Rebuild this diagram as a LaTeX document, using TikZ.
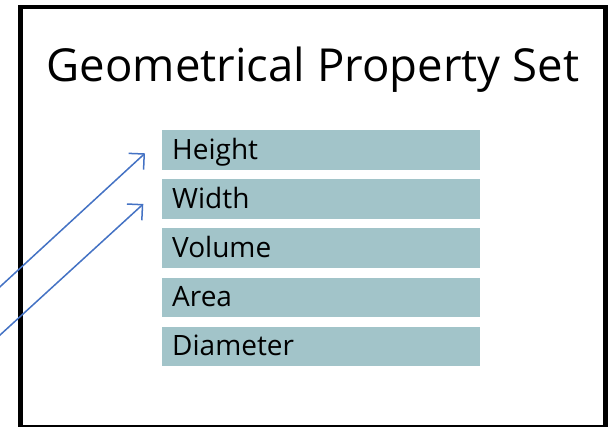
\documentclass[tikz,border=0pt]{standalone}
\usepackage{fontspec}
\setmainfont{Open Sans}
\usetikzlibrary{arrows.meta}
\definecolor{boxfill}{HTML}{A2C4C9}
\definecolor{arrblue}{HTML}{4472C4}
\tikzset{
  propbox/.style={fill=boxfill, anchor=west, inner xsep=10pt, inner ysep=0pt,
    text width=298pt, align=left, minimum height=39.5pt,
    text height=18.7pt, text depth=0pt, font=\fontsize{28}{32}\selectfont},
  link/.style={draw=arrblue, line width=1.5pt,
    -{Straight Barb[length=11pt,width=22pt,line width=1.5pt]}},
  frame/.style={draw=black, line width=4.5pt}
}
\begin{document}
\begin{tikzpicture}[x=1pt,y=-1pt]
\useasboundingbox (0,0) rectangle (613,427);
\clip (0,0) rectangle (613,427);
\fill[white] (0,0) rectangle (613,427);
\draw[frame] (20.5,7.25) rectangle (605.5,426.8);
\node[font=\fontsize{45.5}{52}\selectfont, anchor=base] (title) at (313,81.2) {Geometrical Property Set};
\node[propbox] (h) at (162,150) {Height};
\node[propbox] (w) at (162,199.1) {Width};
\node[propbox] (v) at (162,248.2) {Volume};
\node[propbox] (a) at (162,297.3) {Area};
\node[propbox] (d) at (162,346.4) {Diameter};
\coordinate (s1) at (-10,296);
\coordinate (s2) at (-10,344.2);
\draw[link] (s1) -- ([xshift=-17pt,yshift=-3.3pt]h.west);
\draw[link] (s2) -- ([xshift=-18.7pt,yshift=-4.9pt]w.west);
\end{tikzpicture}
\end{document}
